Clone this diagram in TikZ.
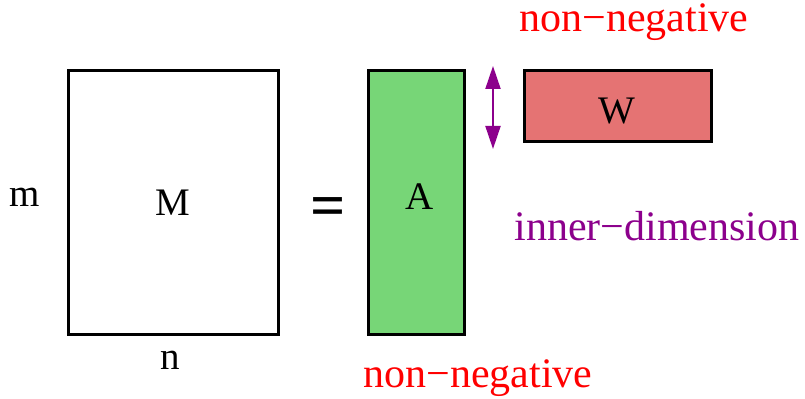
\documentclass[tikz,border=0pt]{standalone}
\usepackage{fontspec}
\setmainfont{Liberation Serif}
\usetikzlibrary{arrows.meta,positioning}
\definecolor{matgreen}{RGB}{119,214,119}
\definecolor{matred}{RGB}{229,115,115}
\definecolor{dimpurple}{RGB}{140,0,140}
\tikzset{
  matbox/.style={draw, line width=1.5pt, rectangle, inner sep=0pt, font=\fontsize{19.5}{23}\selectfont},
  dimlabel/.style={inner sep=0pt, font=\fontsize{19.5}{23}\selectfont},
  note/.style={inner sep=0pt, font=\fontsize{21}{25}\selectfont},
  dimarrow/.style={{Triangle[length=11.5pt,width=7.5pt]}-{Triangle[length=11.5pt,width=7.5pt]}, line width=1pt, dimpurple}
}
\begin{document}
\begin{tikzpicture}[x=0.5pt,y=-0.5pt]
  \useasboundingbox (0,0) rectangle (805,399);
  \node[matbox, minimum width=105pt, minimum height=132pt] (M) at (173,203) {M};
  \node[dimlabel] (m) at (25,197) {m};
  \node[dimlabel] (n) at (170,360) {n};
  \node[inner sep=0pt, font=\fontsize{31}{36}\bfseries\selectfont] (eq) at (328,212) {=};
  \node[matbox, fill=matgreen, minimum width=48pt, minimum height=132pt] (A) at (416,203) {};
  \node[dimlabel] (alabel) at (420,197) {A};
  \node[matbox, fill=matred, minimum width=93.5pt, minimum height=35.5pt] (W) at (617.5,106.5) {};
  \node[dimlabel] (wlabel) at (617,111) {W};
  \coordinate (dtop) at (493,66);
  \coordinate (dbot) at (493,149);
  \draw[dimarrow] (dtop) -- (dbot);
  \node[note, text=red] (nnw) at (634,22) {non−negative};
  \node[note, text=red] (nna) at (478,378) {non−negative};
  \node[note, text=dimpurple] (inner) at (657,226) {inner−dimension};
\end{tikzpicture}
\end{document}
